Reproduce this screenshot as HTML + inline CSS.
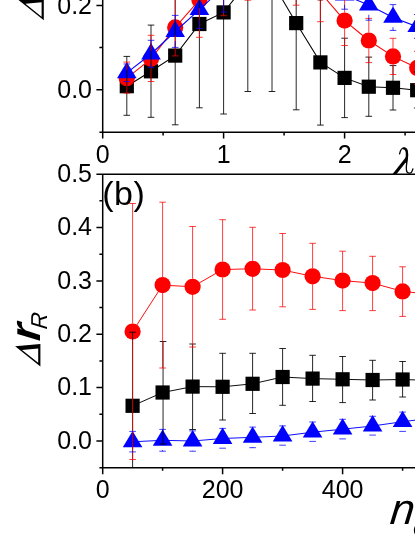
<!DOCTYPE html>
<html><head><meta charset="utf-8"><title>chart</title>
<style>html,body{margin:0;padding:0;background:#fff}body{width:415px;height:537px;overflow:hidden}svg{display:block;will-change:transform}text{font-family:"Liberation Sans",sans-serif;fill:#000}.t{font-size:25px}.se{font-family:"Liberation Serif",serif}</style>
</head><body>
<svg width="415" height="537" viewBox="0 0 415 537">
<defs><clipPath id="ca"><rect x="102.7" y="-5" width="330" height="137.2"/></clipPath>
<clipPath id="cb"><rect x="102.7" y="174.2" width="330" height="293.5"/></clipPath></defs>
<rect width="415" height="537" fill="#fff"/>
<text x="102.3" y="204.8" font-size="34" letter-spacing="0.5">(b)</text>
<g clip-path="url(#ca)">
<polyline points="126.8,86.2 151,71.3 175.2,55.6 199.4,24 223.6,12.4 247.8,-18 272,-18.3 296.2,23.1 320.4,62.4 344.6,77.9 368.8,86.7 393,87.8 417.2,90.2" stroke="#000" stroke-width="1.05" fill="none"/>
<rect x="119.7" y="79.1" width="14.2" height="14.2" fill="#000"/>
<rect x="143.9" y="64.2" width="14.2" height="14.2" fill="#000"/>
<rect x="168.1" y="48.5" width="14.2" height="14.2" fill="#000"/>
<rect x="192.3" y="16.9" width="14.2" height="14.2" fill="#000"/>
<rect x="216.5" y="5.3" width="14.2" height="14.2" fill="#000"/>
<rect x="240.7" y="-25.1" width="14.2" height="14.2" fill="#000"/>
<rect x="264.9" y="-25.4" width="14.2" height="14.2" fill="#000"/>
<rect x="289.1" y="16" width="14.2" height="14.2" fill="#000"/>
<rect x="313.3" y="55.3" width="14.2" height="14.2" fill="#000"/>
<rect x="337.5" y="70.8" width="14.2" height="14.2" fill="#000"/>
<rect x="361.7" y="79.6" width="14.2" height="14.2" fill="#000"/>
<rect x="385.9" y="80.7" width="14.2" height="14.2" fill="#000"/>
<rect x="410.1" y="83.1" width="14.2" height="14.2" fill="#000"/>
</g>
<g clip-path="url(#ca)">
<polyline points="126.8,78.2 151,58.8 175.2,27.4 199.4,0 223.6,-22 247.8,-45 272,-50 296.2,-35 320.4,-7.6 344.6,20.6 368.8,40.5 393,56.4 417.2,67.9" stroke="#ff0000" stroke-width="1.05" fill="none"/>
<circle cx="126.8" cy="78.2" r="8.1" fill="#ff0000"/>
<circle cx="151" cy="58.8" r="8.1" fill="#ff0000"/>
<circle cx="175.2" cy="27.4" r="8.1" fill="#ff0000"/>
<circle cx="199.4" cy="0" r="8.1" fill="#ff0000"/>
<circle cx="223.6" cy="-22" r="8.1" fill="#ff0000"/>
<circle cx="247.8" cy="-45" r="8.1" fill="#ff0000"/>
<circle cx="272" cy="-50" r="8.1" fill="#ff0000"/>
<circle cx="296.2" cy="-35" r="8.1" fill="#ff0000"/>
<circle cx="320.4" cy="-7.6" r="8.1" fill="#ff0000"/>
<circle cx="344.6" cy="20.6" r="8.1" fill="#ff0000"/>
<circle cx="368.8" cy="40.5" r="8.1" fill="#ff0000"/>
<circle cx="393" cy="56.4" r="8.1" fill="#ff0000"/>
<circle cx="417.2" cy="67.9" r="8.1" fill="#ff0000"/>
</g>
<g clip-path="url(#ca)">
<polyline points="126.8,72.8 151,54 175.2,31.5 199.4,9.6 223.6,-12.8 247.8,-30 272,-35 296.2,-30 320.4,-18 344.6,-4.9 368.8,5 393,17.4 417.2,26.7" stroke="#0000ff" stroke-width="1.05" fill="none"/>
<polygon points="126.8,61.9 117,78.2 136.6,78.2" fill="#0000ff"/>
<polygon points="151,43.1 141.2,59.4 160.8,59.4" fill="#0000ff"/>
<polygon points="175.2,20.6 165.4,36.9 185,36.9" fill="#0000ff"/>
<polygon points="199.4,-1.3 189.6,15 209.2,15" fill="#0000ff"/>
<polygon points="223.6,-23.7 213.8,-7.4 233.4,-7.4" fill="#0000ff"/>
<polygon points="247.8,-40.9 238,-24.6 257.6,-24.6" fill="#0000ff"/>
<polygon points="272,-45.9 262.2,-29.6 281.8,-29.6" fill="#0000ff"/>
<polygon points="296.2,-40.9 286.4,-24.6 306,-24.6" fill="#0000ff"/>
<polygon points="320.4,-28.9 310.6,-12.6 330.2,-12.6" fill="#0000ff"/>
<polygon points="344.6,-15.8 334.8,0.5 354.4,0.5" fill="#0000ff"/>
<polygon points="368.8,-5.9 359,10.4 378.6,10.4" fill="#0000ff"/>
<polygon points="393,6.5 383.2,22.8 402.8,22.8" fill="#0000ff"/>
<polygon points="417.2,15.8 407.4,32.1 427,32.1" fill="#0000ff"/>
</g>
<path clip-path="url(#ca)" d="M126.8 56.4V115.3M123.5 56.4H130.1M123.5 115.3H130.1M151 25.1V117.3M147.7 25.1H154.3M147.7 117.3H154.3M175.2 -13.6V124.8M171.9 -13.6H178.5M171.9 124.8H178.5M199.4 -59.8V107.8M196.1 -59.8H202.7M196.1 107.8H202.7M223.6 -89V114M220.3 -89H226.9M220.3 114H226.9M247.8 -127V91.5M244.5 -127H251.1M244.5 91.5H251.1M272 -128V91.5M268.7 -128H275.3M268.7 91.5H275.3M296.2 -63.6V109.8M292.9 -63.6H299.5M292.9 109.8H299.5M320.4 -0.3V125.1M317.1 -0.3H323.7M317.1 125.1H323.7M344.6 38.2V117.6M341.3 38.2H347.9M341.3 117.6H347.9M368.8 57.1V116.3M365.5 57.1H372.1M365.5 116.3H372.1M393 65.6V110M389.7 65.6H396.3M389.7 110H396.3M417.2 72V108M413.9 72H420.5M413.9 108H420.5" stroke="#000" stroke-width="1.0" stroke-opacity="0.85" fill="none"/>
<path clip-path="url(#ca)" d="M126.8 62.1V70.1M126.8 86.3V93.2M123.5 62.1H130.1M123.5 93.2H130.1M151 35.3V50.7M151 66.9V81.5M147.7 35.3H154.3M147.7 81.5H154.3M175.2 -1.1V19.3M175.2 35.5V55.9M171.9 -1.1H178.5M171.9 55.9H178.5M199.4 -37V-8.1M199.4 8.1V37.3M196.1 -37H202.7M196.1 37.3H202.7M223.6 -60V-30.1M223.6 -13.9V15.7M220.3 -60H226.9M220.3 15.7H226.9M247.8 -90V-53.1M247.8 -36.9V0.2M244.5 -90H251.1M244.5 0.2H251.1M272 -90V-58.1M272 -41.9V-20M268.7 -90H275.3M268.7 -20H275.3M296.2 -75V-43.1M296.2 -26.9V5.2M292.9 -75H299.5M292.9 5.2H299.5M320.4 -37V-15.7M320.4 0.5V21.7M317.1 -37H323.7M317.1 21.7H323.7M344.6 -4.3V12.5M344.6 28.7V45.5M341.3 -4.3H347.9M341.3 45.5H347.9M368.8 18.4V32.4M368.8 48.6V62.6M365.5 18.4H372.1M365.5 62.6H372.1M393 38.3V48.3M393 64.5V74.5M389.7 38.3H396.3M389.7 74.5H396.3M417.2 51.3V59.8M417.2 76V84.5M413.9 51.3H420.5M413.9 84.5H420.5" stroke="#ff0000" stroke-width="0.85" stroke-opacity="0.9" fill="none"/>
<path clip-path="url(#ca)" d="M123.5 64H130.1M123.5 81.5H130.1M151 40.3V44.25M151 63.75V67.3M147.7 40.3H154.3M147.7 67.3H154.3M175.2 15.4V21.75M175.2 41.25V47.4M171.9 15.4H178.5M171.9 47.4H178.5M199.4 -9.3V-0.15M199.4 19.35V28.5M196.1 -9.3H202.7M196.1 28.5H202.7M223.6 -38V-22.55M223.6 -3.05V12.1M220.3 -38H226.9M220.3 12.1H226.9M247.8 -60V-39.75M247.8 -20.25V-10M244.5 -60H251.1M244.5 -10H251.1M272 -60V-44.75M272 -25.25V-10M268.7 -60H275.3M268.7 -10H275.3M296.2 -60V-39.75M296.2 -20.25V-10M292.9 -60H299.5M292.9 -10H299.5M320.4 -40V-27.75M320.4 -8.25V-2M317.1 -40H323.7M317.1 -2H323.7M344.6 -19V-14.65M344.6 4.85V9.2M341.3 -19H347.9M341.3 9.2H347.9M368.8 -10.2V-4.75M368.8 14.75V20.2M365.5 -10.2H372.1M365.5 20.2H372.1M393 4.6V7.65M393 27.15V30.4M389.7 4.6H396.3M389.7 30.4H396.3M417.2 14.5V16.95M417.2 36.45V38.3M413.9 14.5H420.5M413.9 38.3H420.5" stroke="#0000ff" stroke-width="0.85" stroke-opacity="0.9" fill="none"/>
<g clip-path="url(#cb)">
<polyline points="132.6,405.8 162.6,392.5 192.6,386.6 222.6,386.8 252.6,383.8 282.6,377 312.6,378.6 342.6,379.3 372.6,380 402.6,379.5 432.6,380.5" stroke="#000" stroke-width="0.95" fill="none"/>
<rect x="125.5" y="398.7" width="14.2" height="14.2" fill="#000"/>
<rect x="155.5" y="385.4" width="14.2" height="14.2" fill="#000"/>
<rect x="185.5" y="379.5" width="14.2" height="14.2" fill="#000"/>
<rect x="215.5" y="379.7" width="14.2" height="14.2" fill="#000"/>
<rect x="245.5" y="376.7" width="14.2" height="14.2" fill="#000"/>
<rect x="275.5" y="369.9" width="14.2" height="14.2" fill="#000"/>
<rect x="305.5" y="371.5" width="14.2" height="14.2" fill="#000"/>
<rect x="335.5" y="372.2" width="14.2" height="14.2" fill="#000"/>
<rect x="365.5" y="372.9" width="14.2" height="14.2" fill="#000"/>
<rect x="395.5" y="372.4" width="14.2" height="14.2" fill="#000"/>
<rect x="425.5" y="373.4" width="14.2" height="14.2" fill="#000"/>
</g>
<g clip-path="url(#cb)">
<polyline points="132.6,331.5 162.6,285.1 192.6,286.8 222.6,269.5 252.6,268.8 282.6,270 312.6,276.3 342.6,280.6 372.6,283.1 402.6,291.4 432.6,294.5" stroke="#ff0000" stroke-width="0.95" fill="none"/>
<circle cx="132.6" cy="331.5" r="8.1" fill="#ff0000"/>
<circle cx="162.6" cy="285.1" r="8.1" fill="#ff0000"/>
<circle cx="192.6" cy="286.8" r="8.1" fill="#ff0000"/>
<circle cx="222.6" cy="269.5" r="8.1" fill="#ff0000"/>
<circle cx="252.6" cy="268.8" r="8.1" fill="#ff0000"/>
<circle cx="282.6" cy="270" r="8.1" fill="#ff0000"/>
<circle cx="312.6" cy="276.3" r="8.1" fill="#ff0000"/>
<circle cx="342.6" cy="280.6" r="8.1" fill="#ff0000"/>
<circle cx="372.6" cy="283.1" r="8.1" fill="#ff0000"/>
<circle cx="402.6" cy="291.4" r="8.1" fill="#ff0000"/>
<circle cx="432.6" cy="294.5" r="8.1" fill="#ff0000"/>
</g>
<g clip-path="url(#cb)">
<polyline points="132.6,441.8 162.6,440.3 192.6,441 222.6,438.5 252.6,437.3 282.6,436 312.6,432.2 342.6,429.2 372.6,426 402.6,421.7 432.6,418" stroke="#0000ff" stroke-width="0.95" fill="none"/>
<polygon points="132.6,430.9 122.8,447.2 142.4,447.2" fill="#0000ff"/>
<polygon points="162.6,429.4 152.8,445.7 172.4,445.7" fill="#0000ff"/>
<polygon points="192.6,430.1 182.8,446.4 202.4,446.4" fill="#0000ff"/>
<polygon points="222.6,427.6 212.8,443.9 232.4,443.9" fill="#0000ff"/>
<polygon points="252.6,426.4 242.8,442.7 262.4,442.7" fill="#0000ff"/>
<polygon points="282.6,425.1 272.8,441.4 292.4,441.4" fill="#0000ff"/>
<polygon points="312.6,421.3 302.8,437.6 322.4,437.6" fill="#0000ff"/>
<polygon points="342.6,418.3 332.8,434.6 352.4,434.6" fill="#0000ff"/>
<polygon points="372.6,415.1 362.8,431.4 382.4,431.4" fill="#0000ff"/>
<polygon points="402.6,410.8 392.8,427.1 412.4,427.1" fill="#0000ff"/>
<polygon points="432.6,407.1 422.8,423.4 442.4,423.4" fill="#0000ff"/>
</g>
<path clip-path="url(#cb)" d="M132.6 332.2V480M129.3 332.2H135.9M129.3 480H135.9M163.05 341.5V444M159.75 341.5H166.35M159.75 444H166.35M192.6 344V429.5M189.3 344H195.9M189.3 429.5H195.9M222.6 353.3V420M219.3 353.3H225.9M219.3 420H225.9M252.6 353.3V413.5M249.3 353.3H255.9M249.3 413.5H255.9M282.6 348.5V405.3M279.3 348.5H285.9M279.3 405.3H285.9M312.6 355.3V401.5M309.3 355.3H315.9M309.3 401.5H315.9M342.6 356.5V402.6M339.3 356.5H345.9M339.3 402.6H345.9M372.6 360.3V400M369.3 360.3H375.9M369.3 400H375.9M402.6 361.5V397M399.3 361.5H405.9M399.3 397H405.9M432.6 362V398M429.3 362H435.9M429.3 398H435.9" stroke="#000" stroke-width="1.0" stroke-opacity="0.85" fill="none"/>
<path clip-path="url(#cb)" d="M132.6 203.5V323.4M132.6 339.6V459.5M129.3 203.5H135.9M129.3 459.5H135.9M162.6 202.2V277M162.6 293.2V368M159.3 202.2H165.9M159.3 368H165.9M192.6 226.5V278.7M192.6 294.9V347M189.3 226.5H195.9M189.3 347H195.9M222.6 219.7V261.4M222.6 277.6V319.3M219.3 219.7H225.9M219.3 319.3H225.9M252.6 227.3V260.7M252.6 276.9V310M249.3 227.3H255.9M249.3 310H255.9M282.6 233.5V261.9M282.6 278.1V306.8M279.3 233.5H285.9M279.3 306.8H285.9M312.6 243.3V268.2M312.6 284.4V309.4M309.3 243.3H315.9M309.3 309.4H315.9M342.6 251.2V272.5M342.6 288.7V310.6M339.3 251.2H345.9M339.3 310.6H345.9M372.6 256.3V275M372.6 291.2V310.6M369.3 256.3H375.9M369.3 310.6H375.9M402.6 266.8V283.3M402.6 299.5V316.4M399.3 266.8H405.9M399.3 316.4H405.9M432.6 270V286.4M432.6 302.6V318M429.3 270H435.9M429.3 318H435.9" stroke="#ff0000" stroke-width="0.85" stroke-opacity="0.9" fill="none"/>
<path clip-path="url(#cb)" d="M132.6 431.4V432.05M132.6 451.55V451.9M129.3 431.4H135.9M129.3 451.9H135.9M162.6 429.4V430.55M162.6 450.05V451.2M159.3 429.4H165.9M159.3 451.2H165.9M192.6 430.9V431.25M192.6 450.75V451.2M189.3 430.9H195.9M189.3 451.2H195.9M222.6 428.4V428.75M219.3 428.4H225.9M219.3 448.2H225.9M252.6 427.1V427.55M252.6 447.05V447.7M249.3 427.1H255.9M249.3 447.7H255.9M282.6 425.9V426.25M279.3 425.9H285.9M279.3 445.2H285.9M312.6 422V422.45M309.3 422H315.9M309.3 441.4H315.9M342.6 419.3V419.45M339.3 419.3H345.9M339.3 438.9H345.9M369.3 416.3H375.9M369.3 435.1H375.9M399.3 412.1H405.9M399.3 431.4H405.9M432.6 427.75V428M429.3 409H435.9M429.3 428H435.9" stroke="#0000ff" stroke-width="0.85" stroke-opacity="0.9" fill="none"/>
<path d="M102.7 -2V138.6M99.4 132.2H420M96.4 5.5H102.7M96.4 89.7H102.7M99.4 47.6H102.7M223.6 132.2V138.6M344.6 132.2V138.6M163.1 132.2V135.5M284.1 132.2V135.5M405.1 132.2V135.5M96.4 174.2H420M102.7 174.2V474.2M99.4 467.7H420M96.4 227.54H102.7M96.4 280.88H102.7M96.4 334.22H102.7M96.4 387.56H102.7M96.4 440.9H102.7M99.4 200.87H102.7M99.4 254.21H102.7M99.4 307.55H102.7M99.4 360.89H102.7M99.4 414.23H102.7M222.6 467.7V474.2M342.6 467.7V474.2M162.6 467.7V470.8M282.6 467.7V470.8M402.6 467.7V470.8" stroke="#000" stroke-width="1.5" fill="none"/>
<text class="t" x="92" y="13.5" text-anchor="end">0.2</text>
<text class="t" x="92" y="97.7" text-anchor="end">0.0</text>
<text class="t" x="92" y="181.9" text-anchor="end">0.5</text>
<text class="t" x="92" y="235.24" text-anchor="end">0.4</text>
<text class="t" x="92" y="288.58" text-anchor="end">0.3</text>
<text class="t" x="92" y="341.92" text-anchor="end">0.2</text>
<text class="t" x="92" y="395.26" text-anchor="end">0.1</text>
<text class="t" x="92" y="448.6" text-anchor="end">0.0</text>
<text class="t" x="102.6" y="162.5" text-anchor="middle">0</text>
<text class="t" x="223.6" y="162.5" text-anchor="middle">1</text>
<text class="t" x="344.6" y="162.5" text-anchor="middle">2</text>
<text class="t" x="102.6" y="497.7" text-anchor="middle">0</text>
<text class="t" x="222.6" y="497.7" text-anchor="middle">200</text>
<text class="t" x="342.6" y="497.7" text-anchor="middle">400</text>
<path d="M399.6 153.9C400.4 150 402 147.9 404 147.9C406.6 147.9 407.6 150.6 407.6 154.6C407.6 159 406.3 164 406.3 168C406.3 171.6 407.5 173.2 409.3 173.2C411 173.2 412.2 171.6 412.9 168.8" fill="none" stroke="#000" stroke-width="1.3" stroke-linecap="round"/>
<path d="M403.6 148.6C406 148.6 406.8 151 406.8 154.6C406.8 157 406.4 159.5 406 162" fill="none" stroke="#000" stroke-width="2.0" stroke-linecap="round"/>
<path d="M392.4 174.3L396.4 174.3L407.2 160.4L406.8 156Z" fill="#000"/>
<text transform="translate(389.2 523.8) skewX(-6)" font-size="43.5" font-style="italic">n</text>
<text transform="translate(412.4 534.5) skewX(-6)" font-size="26" font-style="italic">c</text>
<g transform="translate(40.4 366.4) rotate(-90)">
<path fill-rule="evenodd" d="M0 0L22.4 0L20.2 -25.3ZM3.55 -2.2L17.9 -2.2L16.48 -18.4Z"/>
<g transform="skewX(-6)">
<text x="25" y="0" font-size="43" font-style="italic" font-weight="bold">r</text>
<text x="37.5" y="6.8" font-size="23" font-style="italic">R</text>
</g></g>
<g transform="translate(43.8 20.2) rotate(-90)">
<path fill-rule="evenodd" d="M0 0L22.4 0L20.2 -25.3ZM3.55 -2.2L17.9 -2.2L16.48 -18.4Z"/>
<g transform="skewX(-6)">
<text x="25" y="0" font-size="43" font-style="italic" font-weight="bold">r</text>
<text x="37.5" y="6.8" font-size="23" font-style="italic">R</text>
</g></g>
</svg></body></html>
